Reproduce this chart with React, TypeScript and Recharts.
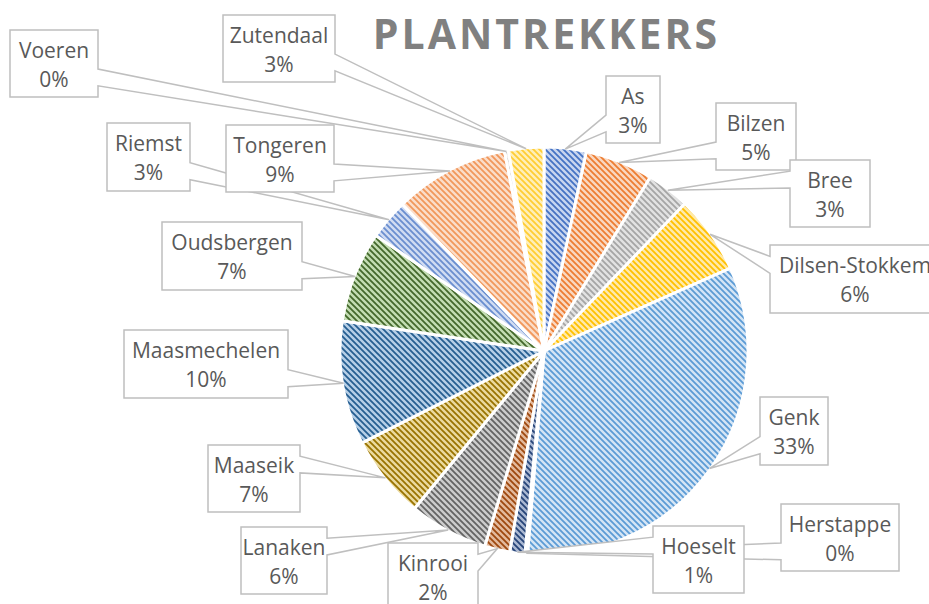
import { Cell, Pie, PieChart } from "recharts"

const gemeenten = [
  "As",
  "Bilzen",
  "Bree",
  "Dilsen-Stokkem",
  "Genk",
  "Herstappe",
  "Hoeselt",
  "Kinrooi",
  "Lanaken",
  "Maaseik",
  "Maasmechelen",
  "Oudsbergen",
  "Riemst",
  "Tongeren",
  "Voeren",
  "Zutendaal",
]

const aandeel = [3.33, 5.4, 3.4, 6.2, 32.9, 0.2, 1.2, 2.0, 6.25, 6.6, 9.8, 7.2, 3.2, 9.1, 0.3, 2.8]

const data = gemeenten.map((name, i) => ({ name, value: aandeel[i] }))

// stripe colour / background tint per slice (Office palette)
const stripe = [
  "#4472C4", "#ED7D31", "#A5A5A5", "#FFC000", "#5B9BD5", "#70AD47", "#264478", "#9E480E",
  "#636363", "#997300", "#255E91", "#43682B", "#698ED0", "#F1975A", "#B7B7B7", "#FFCD33",
]
const tint = [
  "#C8D5EF", "#FAD7C0", "#E2E2E2", "#FFEAAA", "#D4E5F5", "#D2E7C4", "#AAB8D2", "#E3B99C",
  "#CCCCCC", "#EBDA9E", "#B6CFE7", "#C3DDB2", "#D1DCF2", "#FBDDC9", "#E9E9E9", "#FFEFB8",
]

// callout boxes: x, y, w, h
const boxes = [
  [606, 76, 54, 67],
  [716, 103, 80, 67],
  [790, 160, 80, 67],
  [770, 245, 170, 68],
  [760, 397, 68, 68],
  [781, 504, 118, 67],
  [653, 526, 91, 67],
  [388, 543, 90, 67],
  [241, 527, 86, 67],
  [208, 445, 92, 67],
  [124, 330, 164, 68],
  [162, 222, 140, 68],
  [107, 123, 83, 68],
  [226, 125, 108, 67],
  [10, 30, 88, 67],
  [223, 15, 112, 67],
]

const RAD = Math.PI / 180

function calloutPath(x: number, y: number, w: number, h: number, tx: number, ty: number) {
  const dx = tx - (x + w / 2)
  const dy = ty - (y + h / 2)
  const dq = (dx * h) / w
  const vertical = Math.abs(dy) - Math.abs(dq) > 0
  const x1 = x + (w * (dx > 0 ? 7 : 2)) / 12
  const x2 = x + (w * (dx > 0 ? 10 : 5)) / 12
  const y1 = y + (h * (dy > 0 ? 7 : 2)) / 12
  const y2 = y + (h * (dy > 0 ? 10 : 5)) / 12
  let d = `M${x},${y}`
  if (vertical && dy < 0) d += ` L${x1},${y} L${tx},${ty} L${x2},${y}`
  d += ` L${x + w},${y}`
  if (!vertical && dx > 0) d += ` L${x + w},${y1} L${tx},${ty} L${x + w},${y2}`
  d += ` L${x + w},${y + h}`
  if (vertical && dy > 0) d += ` L${x2},${y + h} L${tx},${ty} L${x1},${y + h}`
  d += ` L${x},${y + h}`
  if (!vertical && dx < 0) d += ` L${x},${y2} L${tx},${ty} L${x},${y1}`
  return d + " Z"
}

const renderCallout = (props: any) => {
  const { cx, cy, midAngle, outerRadius, percent, name, index } = props
  const [x, y, w, h] = boxes[index]
  const tx = cx + (outerRadius - 1) * Math.cos(-midAngle * RAD)
  const ty = cy + (outerRadius - 1) * Math.sin(-midAngle * RAD)
  const mx = x + w / 2
  const my = y + h / 2
  return (
    <g key={`callout-${index}`}>
      <path d={calloutPath(x, y, w, h, tx, ty)} fill="#fff" stroke="#BFBFBF" strokeWidth={1.5} />
      <text x={mx} y={my - 6} textAnchor="middle" fontSize={21} fill="#595959" fontFamily="Open Sans">
        {name}
      </text>
      <text x={mx} y={my + 23} textAnchor="middle" fontSize={21} fill="#595959" fontFamily="Open Sans">
        {`${Math.round(percent * 100)}%`}
      </text>
    </g>
  )
}

export default function App() {
  return (
    <div style={{ position: "relative", width: 929, height: 604, background: "#fff", overflow: "hidden" }}>
      <style>{`body{margin:0}`}</style>
      <svg width={0} height={0} style={{ position: "absolute" }}>
        <defs>
          {stripe.map((c, i) => (
            <pattern key={i} id={`pat-${i}`} width={6} height={6} patternUnits="userSpaceOnUse">
              <rect width={6} height={6} fill={tint[i]} />
              <path d="M-1,-1 L7,7 M-1,5 L1,7 M5,-1 L7,1" stroke={c} strokeWidth={1.8} />
            </pattern>
          ))}
        </defs>
      </svg>
      <div
        style={{
          position: "absolute",
          left: 0,
          width: 929,
          top: 8,
          textAlign: "center",
          paddingLeft: 164,
          boxSizing: "border-box",
          fontFamily: "Open Sans",
          fontWeight: 700,
          fontSize: 41,
          letterSpacing: 3,
          color: "#808080",
          lineHeight: "50px",
        }}
      >
        PLANTREKKERS
      </div>
      <PieChart width={929} height={604} margin={{ top: 0, right: 0, bottom: 0, left: 0 }}>
        <Pie
          data={data}
          dataKey="value"
          nameKey="name"
          cx={544}
          cy={351}
          outerRadius={204}
          startAngle={90}
          endAngle={-270}
          stroke="#fff"
          strokeWidth={3}
          label={renderCallout}
          labelLine={false}
          isAnimationActive={false}
        >
          {data.map((d, i) => (
            <Cell key={d.name} fill={`url(#pat-${i})`} />
          ))}
        </Pie>
      </PieChart>
    </div>
  )
}
